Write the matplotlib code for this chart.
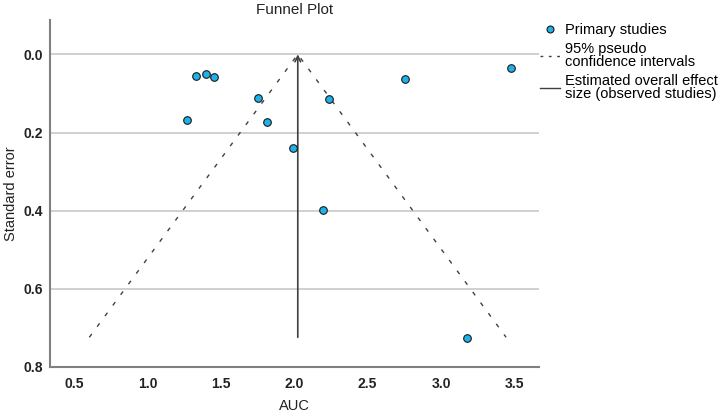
import numpy as np
import matplotlib
matplotlib.use('Agg')
import matplotlib.pyplot as plt
from matplotlib.lines import Line2D

plt.rcParams['font.family'] = ['Liberation Sans', 'DejaVu Sans']

auc = [1.329, 1.397, 1.454, 1.751, 1.270, 1.817, 1.994, 2.235, 2.198, 2.755, 3.477, 3.180]
se = [0.056, 0.050, 0.057, 0.111, 0.167, 0.174, 0.239, 0.114, 0.397, 0.064, 0.036, 0.726]
pooled = 2.024          # estimated overall effect
se_max = 0.724          # bottom of funnel
ci_left = 0.604         # lower 95% limit at se_max
ci_right = 3.443        # upper 95% limit at se_max
xticks = [0.5, 1.0, 1.5, 2.0, 2.5, 3.0, 3.5]
yticks = [0.0, 0.2, 0.4, 0.6, 0.8]

#plot--------------------------------------------------------------------------
fig = plt.figure(figsize=(7.2, 4.16), dpi=100)
ax = fig.add_axes([0.0694, 0.1178, 0.6792, 0.8342])

for yv in yticks[:-1]:
    ax.axhline(yv, color='#c8c8c8', lw=1.2, zorder=0)

ax.plot([ci_left, pooled, ci_right], [se_max, 0, se_max], color='#404040',
        lw=1.0, linestyle=(0, (3, 6.5)), zorder=1)
ax.annotate('', xy=(pooled, 0), xytext=(pooled, se_max),
            arrowprops=dict(arrowstyle='->', color='#404040', lw=1.2,
                            shrinkA=0, shrinkB=0, mutation_scale=10), zorder=2)
ax.scatter(auc, se, s=30, color='#1fb1ea', edgecolor='#1a1a1a', linewidth=0.8, zorder=3)

ax.set_xlim(0.336, 3.667)
ax.set_ylim(0.8, -0.088)
ax.set_xticks(xticks)
ax.set_yticks(yticks)
ax.set_xticklabels([f'{v:.1f}' for v in xticks], fontsize=10, fontweight='bold', color='#222222')
ax.set_yticklabels([f'{v:.1f}' for v in yticks], fontsize=10, fontweight='bold', color='#222222')
ax.tick_params(length=0, pad=5)
ax.tick_params(axis='x', pad=7)

for s in ['top', 'right']:
    ax.spines[s].set_visible(False)
for s in ['left', 'bottom']:
    ax.spines[s].set_color('#808080')
    ax.spines[s].set_linewidth(1.5)

ax.set_xlabel('AUC', fontsize=10.5, color='#222222')
ax.set_ylabel('Standard error', fontsize=10.5, color='#222222')
ax.xaxis.set_label_coords(0.5, -0.093)
ax.yaxis.set_label_coords(-0.066, 0.5)
ax.set_title('Funnel Plot', fontsize=11, color='#222222', pad=4)

handles = [
    Line2D([], [], marker='o', linestyle='none', markersize=5,
           markerfacecolor='#1fb1ea', markeredgecolor='#1a1a1a', markeredgewidth=0.8),
    Line2D([], [], color='#404040', lw=1.0, linestyle=(0, (2, 4))),
    Line2D([], [], color='#404040', lw=1.0),
]
labels = ['Primary studies', '95% pseudo\nconfidence intervals',
          'Estimated overall effect\nsize (observed studies)']
leg = ax.legend(handles, labels, loc='upper left', bbox_to_anchor=(0.99, 1.007),
                frameon=False, fontsize=10.5, handlelength=1.4, handletextpad=0.3,
                labelspacing=0.3, borderaxespad=0)
for t in leg.get_texts():
    t.set_linespacing(0.95)

fig.savefig('out.png', dpi=100)
